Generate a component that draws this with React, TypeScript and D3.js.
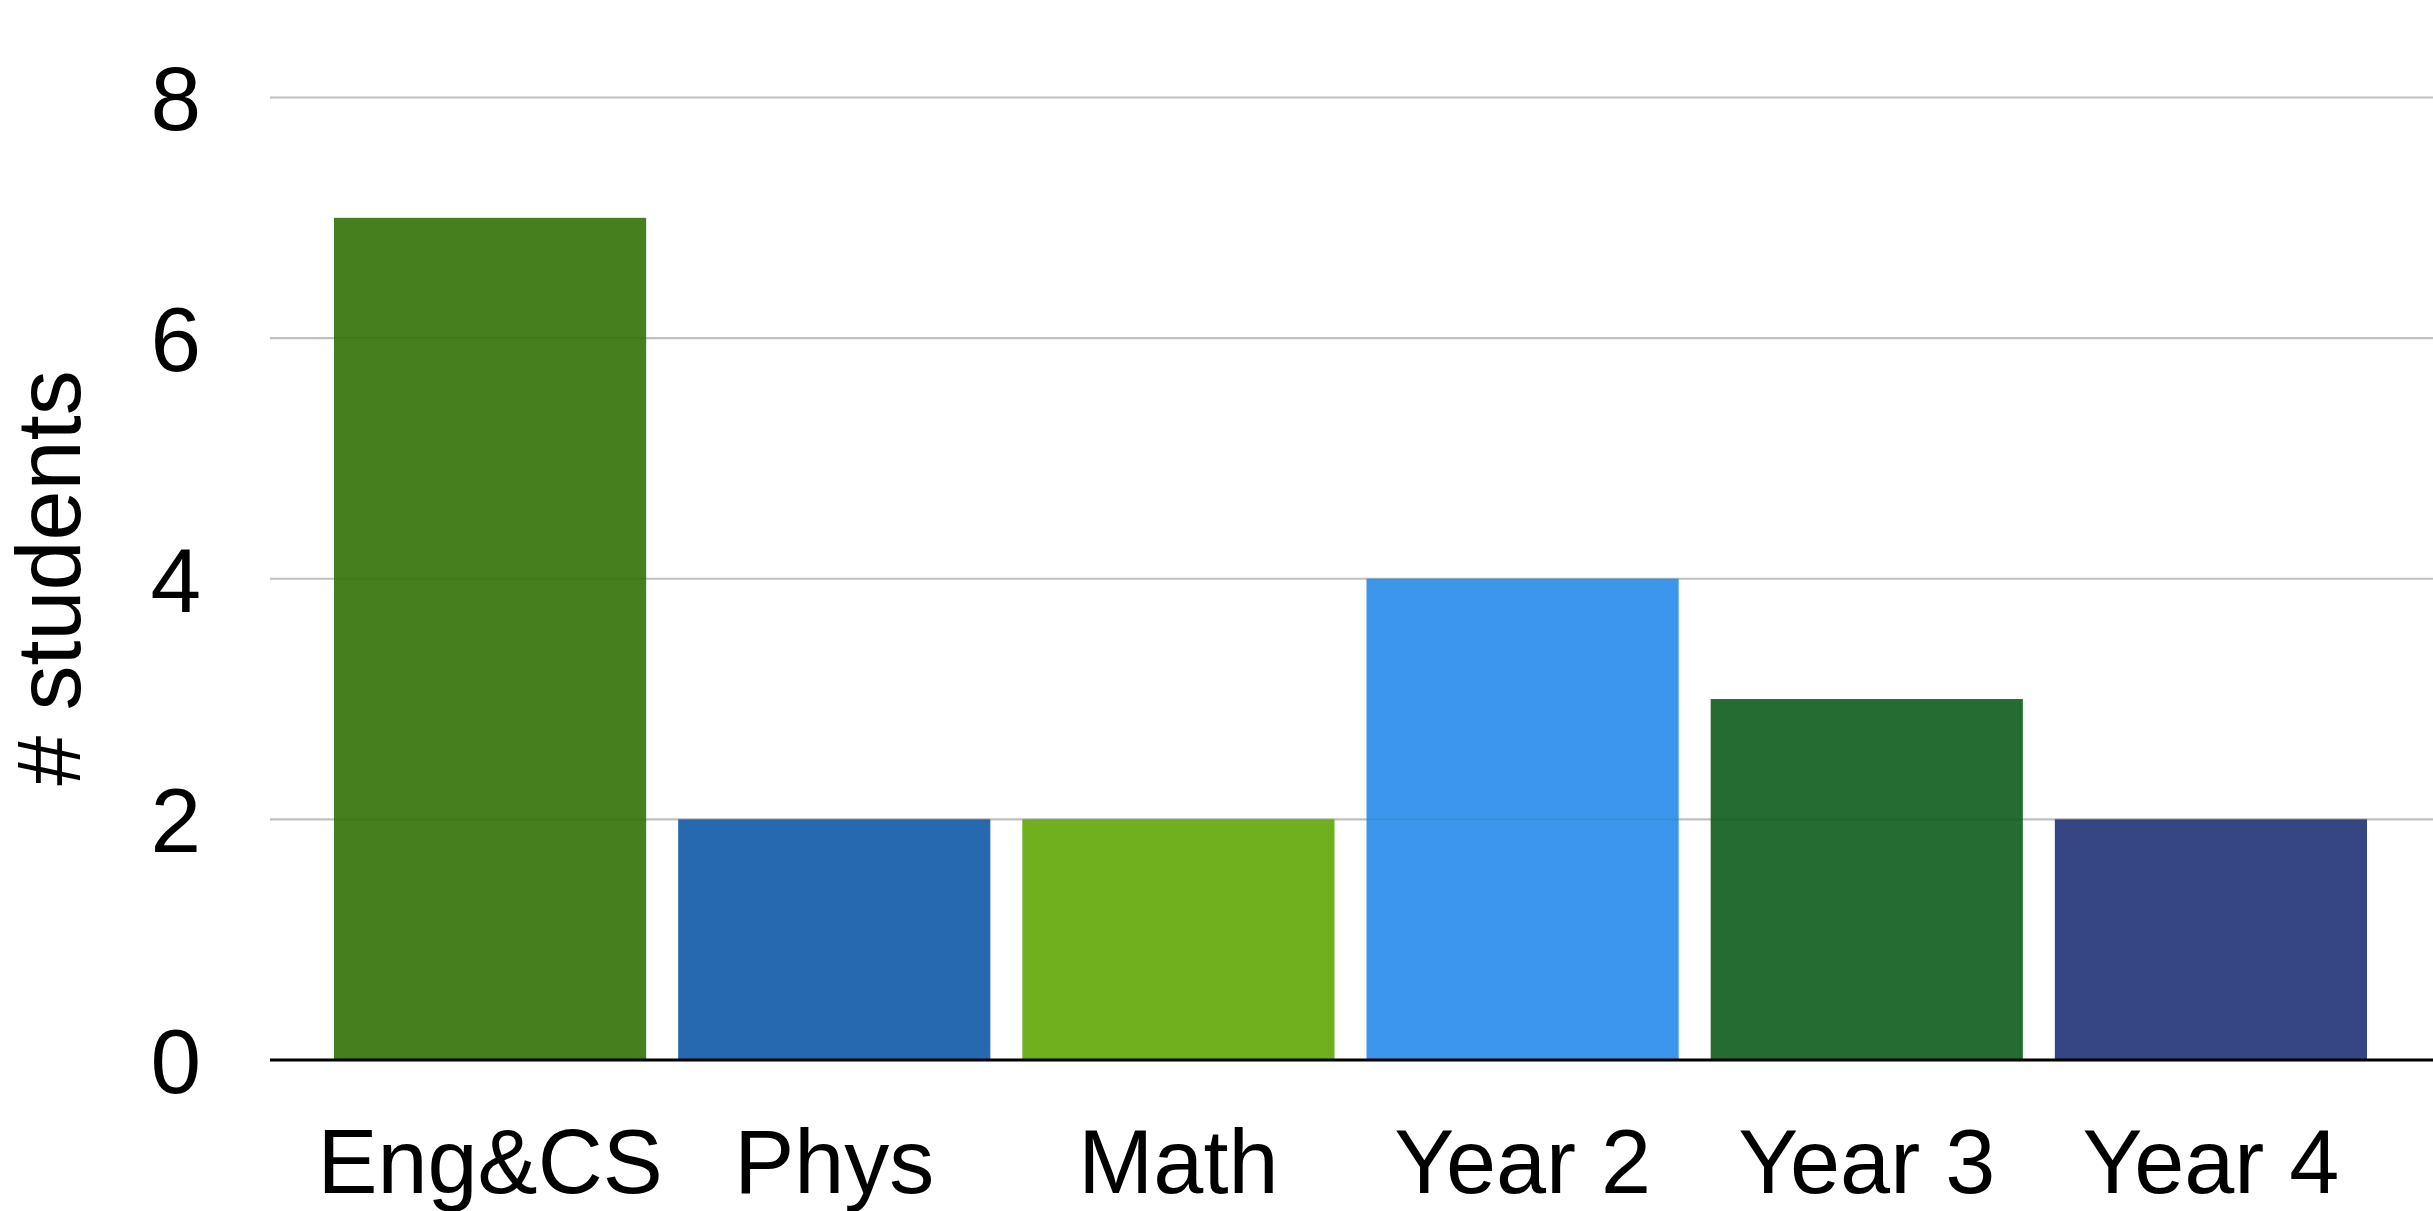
import React from "react";
import * as d3 from "d3";

const categories = ["Eng&CS", "Phys", "Math", "Year 2", "Year 3", "Year 4"];
const values = [7, 2, 2, 4, 3, 2];
const colors = ["#46801e", "#2769b0", "#70b01e", "#3c97ec", "#246c31", "#364584"];
const yTicks = [0, 2, 4, 6, 8];
const yTitle = "# students";

const W = 2433;
const H = 1211;
const FONT = "'Liberation Sans', Arial, Helvetica, sans-serif";

export default function App() {
  const x = d3
    .scaleBand<string>()
    .domain(categories)
    .range([318, 2383])
    .paddingInner(0.093)
    .paddingOuter(0.0465);
  const y = d3.scaleLinear().domain([0, 8]).range([1060, 97.5]);
  const grid = yTicks.filter((t) => t !== 0);

  return (
    <svg
      width={W}
      height={H}
      style={{ position: "absolute", left: 0, top: 0, background: "#fff" }}
      fontFamily={FONT}
    >
      <rect x={0} y={0} width={W} height={H} fill="#fff" />
      {grid.map((t) => (
        <line
          key={"g" + t}
          x1={270}
          x2={W}
          y1={y(t)}
          y2={y(t)}
          stroke="#c0c0c0"
          strokeWidth={2.2}
        />
      ))}
      {categories.map((c, i) => (
        <rect
          key={c}
          x={x(c)}
          y={y(values[i])}
          width={x.bandwidth()}
          height={y(0) - y(values[i])}
          fill={colors[i]}
        />
      ))}
      {categories.map((c, i) =>
        grid
          .filter((t) => t <= values[i])
          .map((t) => (
            <line
              key={"o" + c + t}
              x1={x(c)}
              x2={(x(c) as number) + x.bandwidth()}
              y1={y(t)}
              y2={y(t)}
              stroke="#000"
              strokeOpacity={0.06}
              strokeWidth={2.2}
            />
          ))
      )}
      <line x1={270} x2={W} y1={y(0)} y2={y(0)} stroke="#000" strokeWidth={3} />
      {yTicks.map((t) => (
        <text
          key={"t" + t}
          x={201}
          y={y(t)}
          dy="0.36em"
          textAnchor="end"
          fontSize={91}
          fill="#000"
        >
          {t}
        </text>
      ))}
      {categories.map((c) => (
        <text
          key={"l" + c}
          x={(x(c) as number) + x.bandwidth() / 2}
          y={1193}
          textAnchor="middle"
          fontSize={90}
          fill="#000"
        >
          {c}
        </text>
      ))}
      <text
        transform={`translate(80, ${578}) rotate(-90)`}
        textAnchor="middle"
        fontSize={90}
        fill="#000"
      >
        {yTitle}
      </text>
    </svg>
  );
}
